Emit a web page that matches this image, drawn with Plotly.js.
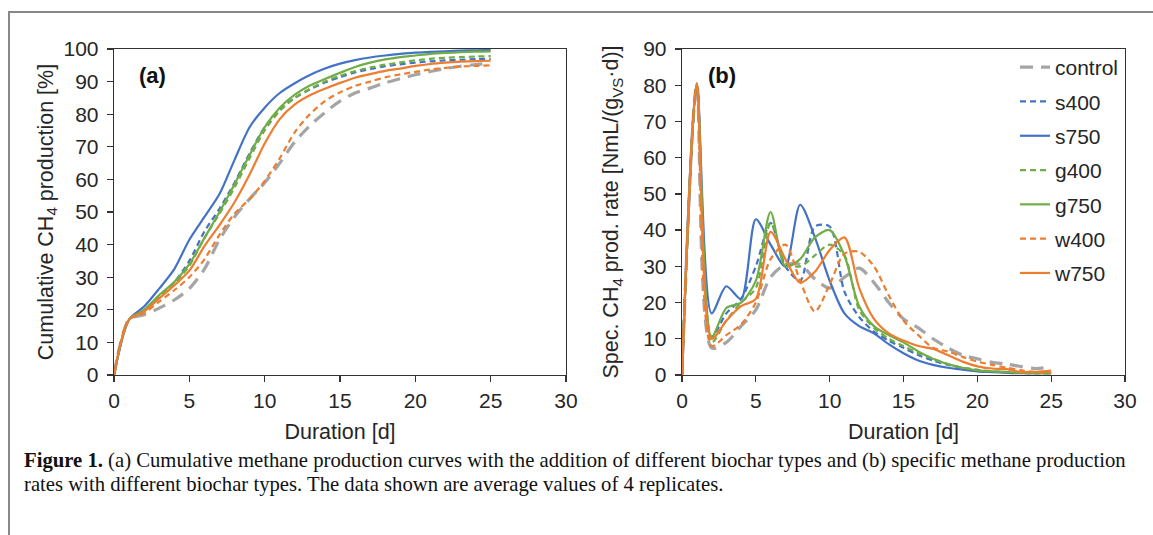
<!DOCTYPE html>
<html>
<head>
<meta charset="utf-8">
<script src="https://cdn.plot.ly/plotly-3.0.1.min.js"></script>
<style>html,body{margin:0;padding:0;background:#fff;}#chart{width:1153px;height:535px;}</style>
</head>
<body>
<div id="chart"></div>
<script>
// ---- data ----
const days = [0,1,2,3,4,5,6,7,8,9,10,11,12,13,14,15,16,17,18,19,20,21,22,23,24,25];
const seriesNames = ["control","s400","s750","g400","g750","w400","w750"];

// (a) cumulative CH4 production [%]
const cumControl = [0,17,18.5,20.5,23,26.5,32.5,41.5,48.5,54,59,65,71.5,76.5,80.5,84,86.5,88,89.6,90.9,92.1,93.1,94,94.7,95.2,95.7];
const cumS400    = [0,17,19.5,24,28.5,35,44,51,59,68,76,81.5,85,87.6,89.7,91.4,92.8,93.8,94.7,95.3,95.8,96.2,96.5,96.7,96.9,97];
const cumS750    = [0,17,21,26.5,32.5,41.5,48.5,55.5,66,76,82,86.5,89.5,92,94,95.5,96.6,97.4,98,98.5,98.9,99.1,99.3,99.5,99.6,99.7];
const cumG400    = [0,17,19.5,24,28,33.5,42,49.5,57.5,66.5,75,81,85,87.8,90,91.8,93.2,94.3,95.2,95.9,96.5,97,97.3,97.5,97.7,97.8];
const cumG750    = [0,17,20,24.5,28.5,34,42,50,58.5,67.5,76,82,86,88.8,90.8,92.7,94.5,95.8,96.8,97.5,98,98.5,98.8,99,99.2,99.3];
const cumW400    = [0,17,19,22.5,26,30,35.5,43,49.5,54,59.5,66.5,74.5,80,84,86.7,88.7,90,91.3,92.2,93,93.7,94.2,94.6,94.8,95];
const cumW750    = [0,17,19.5,23.5,27.5,32,39.5,46,53,61.5,71,78.5,83,85.8,87.8,89.6,91.2,92.3,93.3,94,94.8,95.4,95.8,96.1,96.3,96.4];

// (b) specific CH4 production rate [NmL/(gVS·d)]
const rateControl = [0,80,7.5,9,13.5,18,27,30.5,30.5,26.5,24,27,29.5,25.5,20,15.5,13,10,7.5,5.5,4.5,3.5,3,2.3,1.8,2.3];
const rateS400    = [0,80,10.5,17,21,30,42,30,26,41,41,23,16,12,9.5,7.5,5.5,4,2.8,2,1.4,1,0.8,0.6,0.5,0.5];
const rateS750    = [0,80.5,17,24.5,21,43,36,30,47,38,26,17,13.5,11.5,8.5,6,4,2.8,2,1.5,1,0.8,0.6,0.5,0.5,0.5];
const rateG400    = [0,80,9,15,20,24,42,31,30,33,36,33,18,13,10,8,6,4.5,3,2,1.4,1,0.8,0.6,0.5,0.5];
const rateG750    = [0,80,10.5,18.5,20,26,45,30,32,38,40,33,19,13.5,11,9,6.5,4.5,3,2,1.3,1,0.8,0.6,0.5,0.5];
const rateW400    = [0,80,8,11,14,20,32,36,26,17.5,25,33.5,34,30,22,15,11,7.5,6.5,5,3.7,2.8,2,1.3,0.8,0.5];
const rateW750    = [0,80.5,10,15,19,21,39.5,32,25.5,28.5,34.5,38,24,15.5,11.5,9.5,8,7.2,5.5,3.7,2.4,1.8,1.6,0.8,0.9,1.2];

const xTicks = [0,5,10,15,20,25,30];

// ---- styles ----
const colors = {control:"#A5A5A5", s400:"#4472C4", s750:"#4472C4", g400:"#70AD47", g750:"#70AD47", w400:"#ED7D31", w750:"#ED7D31"};
const dashes = {control:"13px,8px", s400:"6px,4px", s750:"solid", g400:"6px,4px", g750:"solid", w400:"6px,4px", w750:"solid"};
const widths = {control:3.2, s400:2.2, s750:2.2, g400:2.2, g750:2.2, w400:2.2, w750:2.2};

const cum = {control:cumControl, s400:cumS400, s750:cumS750, g400:cumG400, g750:cumG750, w400:cumW400, w750:cumW750};
const rate = {control:rateControl, s400:rateS400, s750:rateS750, g400:rateG400, g750:rateG750, w400:rateW400, w750:rateW750};

const traces = [];
seriesNames.forEach(n => {
  traces.push({x: days, y: cum[n], type: "scatter", mode: "lines", name: n, showlegend: false, legendgroup: n,
    line: {color: colors[n], dash: dashes[n], width: widths[n], shape: "spline", smoothing: 0.8},
    xaxis: "x", yaxis: "y", hoverinfo: "skip"});
});
seriesNames.forEach(n => {
  traces.push({x: days, y: rate[n], type: "scatter", mode: "lines", name: n, legendgroup: n,
    line: {color: colors[n], dash: dashes[n], width: widths[n], shape: "spline", smoothing: 0.8},
    xaxis: "x2", yaxis: "y2", hoverinfo: "skip"});
});

const W = 1153, H = 535;
const fontFam = "Liberation Sans, Arial, sans-serif";
const tickFont = {family: fontFam, size: 21, color: "#262626"};
const titleFont = {family: fontFam, size: 21.5, color: "#262626"};
const yDom = [(H-375)/H, (H-49)/H];

function axis(domain, range, dtick, title, standoff, anchor, labelStandoff) {
  return {domain: domain, range: range, dtick: dtick, tick0: 0, ticks: "outside", ticklen: 6, tickwidth: 1.3,
    tickcolor: "#333", showline: true, linecolor: "#333", linewidth: 1.3, mirror: true,
    showgrid: false, zeroline: false, tickfont: tickFont, anchor: anchor, ticklabelstandoff: labelStandoff,
    title: {text: title, font: titleFont, standoff: standoff}, automargin: false, fixedrange: true};
}

const layout = {
  width: W, height: H, margin: {l: 0, r: 0, t: 0, b: 0},
  paper_bgcolor: "#fff", plot_bgcolor: "#fff", showlegend: true,
  font: {family: fontFam},
  xaxis: Object.assign(axis([114/W, 566/W], [0,30], 5, "Duration [d]", 13, "y", 0), {tickvals: xTicks}),
  yaxis: axis(yDom, [0,100], 10, "Cumulative CH<sub>4</sub> production [%]", 4, "x", 4),
  xaxis2: Object.assign(axis([682/W, 1125/W], [0,30], 5, "Duration [d]", 13, "y2", 0), {tickvals: xTicks}),
  yaxis2: axis(yDom, [0,90], 10, "Spec. CH<sub>4</sub> prod. rate [NmL/(g<sub>VS</sub>·d)]", 18, "x2", 4),
  legend: {x: 1015/W, y: 1 - 47/H, xanchor: "left", yanchor: "top", bgcolor: "rgba(0,0,0,0)",
    font: {family: fontFam, size: 21, color: "#262626"}, tracegroupgap: 4, traceorder: "grouped"},
  annotations: [
    {text: "<b>(a)</b>", xref: "paper", yref: "paper", x: 152/W, y: 1 - 75/H, xanchor: "center", yanchor: "middle",
     showarrow: false, font: {family: fontFam, size: 22, color: "#111"}},
    {text: "<b>(b)</b>", xref: "paper", yref: "paper", x: 722/W, y: 1 - 75/H, xanchor: "center", yanchor: "middle",
     showarrow: false, font: {family: fontFam, size: 22, color: "#111"}},
    {text: "<b>Figure 1.</b> (a) Cumulative methane production curves with the addition of different biochar types and (b) specific methane production",
     xref: "paper", yref: "paper", x: 22/W, y: 1 - 460/H, xanchor: "left", yanchor: "middle", align: "left",
     showarrow: false, font: {family: "Liberation Serif, Times New Roman, serif", size: 20.7, color: "#111"}},
    {text: "rates with different biochar types. The data shown are average values of 4 replicates.",
     xref: "paper", yref: "paper", x: 22/W, y: 1 - 484/H, xanchor: "left", yanchor: "middle", align: "left",
     showarrow: false, font: {family: "Liberation Serif, Times New Roman, serif", size: 20.7, color: "#111"}}
  ],
  shapes: [
    {type: "rect", xref: "paper", yref: "paper", x0: 9/W, x1: 1.02, y0: -0.05, y1: 1 - 12/H,
     line: {color: "#888", width: 2}, fillcolor: "rgba(0,0,0,0)"}
  ]
};

Plotly.newPlot("chart", traces, layout, {staticPlot: true, displayModeBar: false});
</script>
</body>
</html>
